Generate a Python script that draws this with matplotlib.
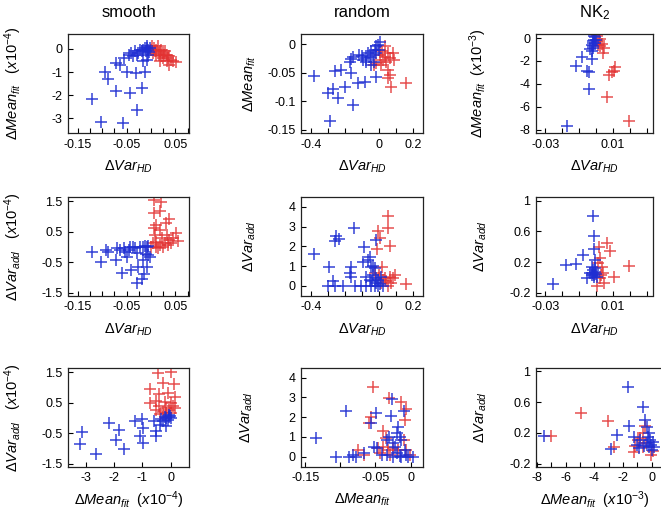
import matplotlib
matplotlib.use('Agg')
import matplotlib.pyplot as plt

plt.rcParams['font.family'] = ['Liberation Sans', 'DejaVu Sans']
plt.rcParams['mathtext.fontset'] = 'custom'
plt.rcParams['mathtext.rm'] = 'Liberation Sans'
plt.rcParams['mathtext.it'] = 'Liberation Sans:italic'
plt.rcParams['axes.unicode_minus'] = False

BLUE = '#1f2ed2'
RED = '#e23232'

# ---- smooth: dVar_HD vs dMean_fit (x1e-4)
sm_hd_mean_bx = [-0.121, -0.102, -0.094, -0.087, -0.071, -0.071, -0.063, -0.058, -0.056, -0.050,
                 -0.043, -0.046, -0.036, -0.031, -0.028, -0.019, -0.016, -0.012, -0.009, -0.033,
                 -0.026, -0.023, -0.016, -0.009, -0.006, -0.010, -0.004, -0.002, -0.008, -0.012,
                 -0.019, -0.040, -0.029, -0.006]
sm_hd_mean_by = [-2.18, -3.17, -0.98, -1.31, -1.80, -0.61, -0.68, -3.20, -0.39, -0.98,
                 -1.92, -0.25, -0.32, -1.05, -2.65, -1.70, -0.54, -0.98, -0.49, -0.10,
                 -0.17, -0.03, -0.03, 0.04, -0.03, -0.10, -0.15, 0.04, 0.12, 0.04,
                 -0.10, -0.17, -0.25, -0.25]
sm_hd_mean_rx = [0.003, 0.006, 0.011, 0.015, 0.018, 0.021, 0.025, 0.028, 0.032, 0.025,
                 0.035, 0.038, 0.042, 0.045, 0.052, 0.038, 0.032, 0.018, 0.008, 0.011,
                 0.017, 0.021, 0.001, 0.005, 0.026]
sm_hd_mean_ry = [0.12, 0.04, -0.03, 0.12, -0.10, -0.03, -0.17, -0.10, -0.25, -0.39,
                 -0.39, -0.32, -0.47, -0.54, -0.58, -0.68, -0.54, -0.54, -0.10, -0.25,
                 -0.25, -0.32, -0.03, -0.17, -0.25]

# ---- smooth: dVar_HD vs dVar_add (x1e-4)
sm_hd_add_bx = [-0.121, -0.102, -0.092, -0.087, -0.071, -0.070, -0.063, -0.059, -0.056, -0.053,
                -0.050, -0.043, -0.040, -0.033, -0.029, -0.026, -0.028, -0.019, -0.017, -0.014,
                -0.009, -0.010, -0.006, -0.002, -0.023, -0.016, -0.012, -0.009, -0.006, -0.036,
                -0.046]
sm_hd_add_by = [-0.15, -0.48, -0.08, -0.15, -0.41, -0.04, -0.08, -0.85, -0.04, -0.15,
                -0.34, -0.01, -0.76, -0.04, -0.21, -0.65, -1.18, -1.04, -0.43, -0.87,
                -0.65, -0.23, -0.26, -0.32, -0.01, -0.01, 0.03, -0.01, 0.03, -0.01,
                -0.08]
sm_hd_add_rx = [0.006, 0.021, 0.018, 0.006, 0.038, 0.030, 0.011, 0.006, 0.018, 0.052,
                0.032, 0.008, 0.045, 0.055, 0.023, 0.038, 0.011, 0.028, 0.018, 0.035,
                0.005, 0.011, 0.025, 0.042, 0.001, 0.015]
sm_hd_add_ry = [1.55, 1.47, 1.17, 1.11, 0.92, 0.78, 0.73, 0.62, 0.56, 0.47,
                0.40, 0.40, 0.29, 0.21, 0.29, 0.23, 0.18, 0.12, 0.07, 0.07,
                0.12, 0.01, 0.01, 0.12, -0.01, -0.04]

# ---- smooth: dMean_fit (x1e-4) vs dVar_add (x1e-4)
sm_mean_add_bx = [-3.15, -3.21, -2.65, -2.18, -1.82, -1.92, -1.66, -1.27, -1.00, -0.98,
                  -1.09, -0.98, -0.60, -0.53, -0.51, -0.39, -0.27, -0.18, -0.15, -0.09,
                  -0.04, -0.01, -0.06, -0.21, -0.33, 0.02]
sm_mean_add_by = [-0.44, -0.84, -1.17, -0.15, -0.39, -0.71, -1.02, -0.11, -0.04, -0.33,
                  -0.60, -0.82, -0.11, -0.41, -0.60, -0.22, -0.08, -0.26, 0.00, -0.06,
                  0.03, 0.07, 0.10, 0.05, -0.04, 0.00]
sm_mean_add_rx = [-0.45, 0.02, -0.27, 0.11, -0.72, -0.41, -0.09, 0.14, -0.74, -0.51,
                  -0.21, 0.02, -0.41, -0.15, 0.08, -0.53, -0.27, -0.04, 0.14, -0.39,
                  -0.15, 0.02]
sm_mean_add_ry = [1.47, 1.50, 1.16, 1.12, 0.94, 0.79, 0.83, 0.70, 0.51, 0.57,
                  0.54, 0.51, 0.38, 0.32, 0.38, 0.25, 0.21, 0.27, 0.32, 0.14,
                  0.16, 0.18]

# ---- random: dVar_HD vs dMean_fit
rn_hd_mean_bx = [-0.384, -0.290, -0.300, -0.271, -0.261, -0.241, -0.222, -0.202, -0.163, -0.153,
                 -0.173, -0.163, -0.153, -0.124, -0.118, -0.098, -0.084, -0.075, -0.065, -0.055,
                 -0.045, -0.035, -0.025, -0.016, -0.006, -0.016, -0.031, -0.045, 0.004, -0.020,
                 0.000, -0.075, -0.094]
rn_hd_mean_by = [-0.056, -0.135, -0.085, -0.079, -0.048, -0.094, -0.046, -0.076, -0.050, -0.107,
                 -0.032, -0.026, -0.023, -0.069, -0.019, -0.021, -0.066, -0.025, -0.016, -0.022,
                 -0.013, -0.019, -0.010, -0.004, -0.001, -0.057, -0.031, -0.036, 0.003, -0.015,
                 -0.010, -0.031, -0.028]
rn_hd_mean_rx = [-0.031, -0.016, 0.004, 0.020, 0.033, 0.053, 0.082, 0.088, 0.063, 0.024,
                 0.043, 0.053, 0.063, 0.053, 0.073, 0.157, 0.014, 0.033, 0.008]
rn_hd_mean_ry = [-0.036, -0.034, -0.019, -0.013, -0.022, -0.016, -0.015, -0.028, -0.025, -0.028,
                 -0.032, -0.045, -0.054, -0.060, -0.076, -0.068, -0.036, -0.004, -0.010]

# ---- random: dVar_HD vs dVar_add
rn_hd_add_bx = [-0.384, -0.294, -0.251, -0.261, -0.235, -0.149, -0.090, -0.016, -0.163, -0.169,
                -0.163, -0.271, -0.300, -0.261, -0.212, -0.143, -0.104, -0.075, -0.045, -0.094,
                -0.065, -0.055, -0.045, -0.035, -0.025, -0.075, -0.055, -0.035, -0.016, -0.006,
                0.004, 0.014, -0.025, -0.006, -0.016, -0.039, 0.024]
rn_hd_add_by = [1.61, 0.94, 2.52, 2.29, 2.35, 2.91, 1.98, 2.32, 0.94, 0.64,
                0.47, 0.22, 0.00, 0.00, 0.00, 0.00, 0.00, 0.00, 0.00, 1.23,
                1.31, 1.48, 0.97, 1.01, 0.89, 0.47, 0.30, 0.55, 0.13, 0.30,
                0.10, 0.47, 0.00, 0.00, 0.39, 0.22, 0.00]
rn_hd_add_rx = [0.053, 0.053, -0.006, 0.004, -0.012, 0.067, 0.020, -0.025, 0.000, 0.033,
                0.063, 0.082, 0.092, 0.043, 0.073, 0.024, 0.161, 0.053, 0.014]
rn_hd_add_ry = [3.53, 2.91, 2.79, 2.40, 1.85, 2.02, 0.97, 0.64, 0.55, 0.39,
                0.47, 0.39, 0.55, 0.22, 0.13, 0.30, 0.10, 0.00, 0.13]

# ---- random: dMean_fit vs dVar_add
rn_mean_add_bx = [-0.134, -0.106, -0.092, -0.087, -0.082, -0.077, -0.067, -0.056, -0.049, -0.052,
                  -0.048, -0.041, -0.034, -0.030, -0.027, -0.028, -0.025, -0.020, -0.018, -0.015,
                  -0.013, -0.022, -0.020, -0.015, -0.010, -0.008, -0.006, -0.003, 0.003, -0.013,
                  -0.025, -0.034]
rn_mean_add_by = [0.96, 0.00, 2.33, 0.00, 0.08, 0.00, 0.17, 1.69, 2.23, 0.51,
                  0.42, 0.08, 0.84, 1.01, 2.90, 2.06, 0.68, 1.18, 1.49, 1.01,
                  0.84, 0.51, 0.17, 0.03, 2.33, 0.34, 0.08, 0.00, 0.00, 0.00,
                  0.00, 0.08]
rn_mean_add_rx = [-0.053, -0.030, -0.013, -0.006, -0.008, -0.056, -0.059, -0.039, -0.035, -0.075,
                  -0.067, -0.046, -0.039, -0.032, -0.025, -0.029, -0.018, -0.010, -0.006, -0.001,
                  -0.043]
rn_mean_add_ry = [3.54, 2.95, 2.78, 2.40, 1.86, 2.03, 1.72, 1.32, 0.93, 0.34,
                  0.08, 0.42, 0.51, 0.34, 0.42, 0.08, 0.34, 0.84, 0.34, 0.08,
                  0.17]

# ---- NK2: dVar_HD vs dMean_fit (x1e-3)
nk_hd_mean_bx = [-0.0172, -0.0120, -0.0086, -0.0056, -0.0040, -0.0042, -0.0026, -0.0036, -0.0026, -0.0020,
                 -0.0016, -0.0012, -0.0006, -0.0020, -0.0006, 0.0000, -0.0026, -0.0016, -0.0012]
nk_hd_mean_by = [-7.71, -2.43, -1.67, -2.87, -2.93, -4.49, -1.85, -0.97, -1.17, -0.73,
                 -0.44, -0.15, 0.09, -0.29, -0.44, -0.15, -0.59, -0.88, 0.15]
nk_hd_mean_rx = [0.0194, 0.0064, 0.0074, 0.0094, 0.0108, 0.0104, 0.0040, 0.0024, 0.0014, 0.0004,
                 0.0020, 0.0034, 0.0044, 0.0008]
nk_hd_mean_ry = [-7.24, -5.13, -3.23, -2.93, -2.49, -2.84, -1.32, -0.73, -0.29, 0.15,
                 -0.09, -0.50, -0.88, -0.59]

# ---- NK2: dVar_HD vs dVar_add
nk_hd_add_bx = [-0.0256, -0.0180, -0.0120, -0.0080, -0.0016, -0.0012, -0.0012, -0.0006, -0.0056, -0.0026,
                -0.0020, -0.0016, -0.0012, -0.0006, 0.0000, -0.0012, 0.0004, -0.0026, -0.0006, -0.0036]
nk_hd_add_by = [-0.087, 0.161, 0.174, 0.291, 0.800, 0.540, 0.365, 0.226, -0.013, 0.139,
                0.096, 0.052, 0.030, 0.074, 0.043, 0.000, 0.009, 0.030, 0.117, 0.061]
nk_hd_add_rx = [0.0064, 0.0084, 0.0194, 0.0104, 0.0014, 0.0020, 0.0034, 0.0044, 0.0004, 0.0020,
                0.0040, 0.0008, 0.0028]
nk_hd_add_ry = [0.452, 0.348, 0.148, 0.009, 0.391, 0.248, 0.130, -0.070, -0.113, -0.013,
                0.052, 0.183, 0.030]

# ---- NK2: dMean_fit (x1e-3) vs dVar_add
nk_mean_add_bx = [-7.49, -2.81, -2.43, -1.64, -1.57, -1.22, -1.03, -0.80, -0.63, -0.47,
                  -0.33, -0.28, -0.16, -0.09, -0.05, 0.07, 0.19, -0.16, -0.33, 0.00,
                  -0.51, -0.87]
nk_mean_add_by = [0.159, -0.013, 0.172, 0.794, 0.288, 0.150, 0.043, 0.107, 0.536, 0.365,
                  0.270, 0.150, 0.193, 0.107, 0.043, 0.086, 0.021, 0.013, 0.064, -0.021,
                  0.030, 0.000]
nk_mean_add_rx = [-7.02, -4.96, -3.04, -2.62, -1.26, -1.17, -0.80, -0.63, -0.47, -0.63,
                  -0.40, -0.05, 0.07, -0.98]
nk_mean_add_ry = [0.159, 0.459, 0.356, 0.021, -0.043, 0.030, 0.129, 0.193, 0.288, 0.021,
                  0.064, -0.086, -0.030, 0.107]

col_titles = ['smooth', 'random', r'NK$_2$']

lab_hd = r'$\Delta Var_{HD}$'
lab_add = r'$\Delta Var_{add}$'
lab_mean = r'$\Delta Mean_{fit}$'
lab_add4 = r'$\Delta Var_{add}\ \ \ (x10^{-4})$'
lab_mean4 = r'$\Delta Mean_{fit}\ \ \ (x10^{-4})$'
lab_mean3 = r'$\Delta Mean_{fit}\ \ (x10^{-3})$'
lab_mean4x = r'$\Delta Mean_{fit}\ \ (x10^{-4})$'

W, H = 661, 511
fig = plt.figure(figsize=(W / 100, H / 100), dpi=100)


def px_axes(left, top, right, bottom):
    return fig.add_axes([left / W, 1 - bottom / H, (right - left) / W, (bottom - top) / H])


def panel(ax, bx, by, rx, ry, xlim, ylim, xt, xtl, xminor, yt, ytl, xlabel, ylabel, ylx, xly=-0.26):
    ax.scatter(rx, ry, marker='+', s=75, c=RED, linewidths=1.1, alpha=0.85)
    ax.scatter(bx, by, marker='+', s=75, c=BLUE, linewidths=1.1, alpha=0.9)
    ax.set_xlim(xlim)
    ax.set_ylim(ylim)
    ax.set_xticks(xt, xtl)
    if xminor:
        ax.set_xticks(xminor, minor=True)
    ax.set_yticks(yt, ytl)
    ax.tick_params(which='both', direction='in', length=3.5, width=0.8, labelsize=9, pad=4)
    for s in ax.spines.values():
        s.set_linewidth(0.9)
        s.set_color('#222222')
    ax.set_xlabel(xlabel, fontsize=10.5)
    ax.set_ylabel(ylabel, fontsize=10.5)
    ax.xaxis.set_label_coords(0.5, xly)
    ax.yaxis.set_label_coords(ylx, 0.5)


cols = [(68, 189), (301, 423), (536, 653)]
rows = [(34, 133), (197, 295.5), (368.3, 466.7)]

sm_x = ([-0.15, -0.05, 0.05], ['-0.15', '-0.05', '0.05'],
        [-0.125, -0.1, -0.075, -0.025, 0.0, 0.025, 0.075])
rn_x = ([-0.4, 0.0, 0.2], ['-0.4', '0', '0.2'], [-0.3, -0.2, -0.1, 0.1])
nk_x = ([-0.03, 0.01], ['-0.03', '0.01'], [-0.02, -0.01, 0.0, 0.02, 0.03])

# row 0
ax = px_axes(cols[0][0], rows[0][0], cols[0][1], rows[0][1])
panel(ax, sm_hd_mean_bx, sm_hd_mean_by, sm_hd_mean_rx, sm_hd_mean_ry,
      (-0.170, 0.078), (-3.64, 0.65), *sm_x,
      [0, -1, -2, -3], ['0', '-1', '-2', '-3'], lab_hd, lab_mean4, -0.36)
ax.set_title(col_titles[0], fontsize=12, pad=12)

ax = px_axes(cols[1][0], rows[0][0], cols[1][1], rows[0][1])
panel(ax, rn_hd_mean_bx, rn_hd_mean_by, rn_hd_mean_rx, rn_hd_mean_ry,
      (-0.46, 0.259), (-0.156, 0.0177), *rn_x,
      [0, -0.05, -0.1, -0.15], ['0', '-0.05', '-0.1', '-0.15'], lab_hd, lab_mean, -0.35)
ax.set_title(col_titles[1], fontsize=12, pad=12)

ax = px_axes(cols[2][0], rows[0][0], cols[2][1], rows[0][1])
panel(ax, nk_hd_mean_bx, nk_hd_mean_by, nk_hd_mean_rx, nk_hd_mean_ry,
      (-0.0355, 0.0335), (-8.3, 0.35), *nk_x,
      [0, -2, -4, -6, -8], ['0', '-2', '-4', '-6', '-8'], lab_hd, lab_mean3, -0.40)
ax.set_title(col_titles[2], fontsize=12, pad=12)

# row 1
ax = px_axes(cols[0][0], rows[1][0], cols[0][1], rows[1][1])
panel(ax, sm_hd_add_bx, sm_hd_add_by, sm_hd_add_rx, sm_hd_add_ry,
      (-0.170, 0.078), (-1.59, 1.645), *sm_x,
      [1.5, 0.5, -0.5, -1.5], ['1.5', '0.5', '-0.5', '-1.5'], lab_hd, lab_add4, -0.36)

ax = px_axes(cols[1][0], rows[1][0], cols[1][1], rows[1][1])
panel(ax, rn_hd_add_bx, rn_hd_add_by, rn_hd_add_rx, rn_hd_add_ry,
      (-0.46, 0.259), (-0.49, 4.5), *rn_x,
      [0, 1, 2, 3, 4], ['0', '1', '2', '3', '4'], lab_hd, lab_add, -0.35)

ax = px_axes(cols[2][0], rows[1][0], cols[2][1], rows[1][1])
panel(ax, nk_hd_add_bx, nk_hd_add_by, nk_hd_add_rx, nk_hd_add_ry,
      (-0.0355, 0.0335), (-0.239, 1.052), *nk_x,
      [1, 0.6, 0.2, -0.2], ['1', '0.6', '0.2', '-0.2'], lab_hd, lab_add, -0.40)

# row 2
ax = px_axes(cols[0][0], rows[2][0], cols[0][1], rows[2][1])
panel(ax, sm_mean_add_bx, sm_mean_add_by, sm_mean_add_rx, sm_mean_add_ry,
      (-3.63, 0.65), (-1.59, 1.63),
      [-3, -2, -1, 0], ['-3', '-2', '-1', '0'], None,
      [1.5, 0.5, -0.5, -1.5], ['1.5', '0.5', '-0.5', '-1.5'], lab_mean4x, lab_add4, -0.36, -0.235)

ax = px_axes(cols[1][0], rows[2][0], cols[1][1], rows[2][1])
panel(ax, rn_mean_add_bx, rn_mean_add_by, rn_mean_add_rx, rn_mean_add_ry,
      (-0.156, 0.0177), (-0.51, 4.48),
      [-0.15, -0.05, 0], ['-0.15', '-0.05', '0'], [-0.1],
      [0, 1, 2, 3, 4], ['0', '1', '2', '3', '4'], lab_mean, lab_add, -0.38, -0.25)

ax = px_axes(cols[2][0], rows[2][0], 663, rows[2][1])
panel(ax, nk_mean_add_bx, nk_mean_add_by, nk_mean_add_rx, nk_mean_add_ry,
      (-8.07, 0.79), (-0.24, 1.04),
      [-8, -6, -4, -2, 0], ['-8', '-6', '-4', '-2', '0'], [-7, -5, -3, -1],
      [1, 0.6, 0.2, -0.2], ['1', '0.6', '0.2', '-0.2'], lab_mean3, lab_add,
      -0.40 * 117 / 127, -0.235)
ax.xaxis.set_label_coords(0.46, -0.235)

fig.savefig('out.png', dpi=100)
